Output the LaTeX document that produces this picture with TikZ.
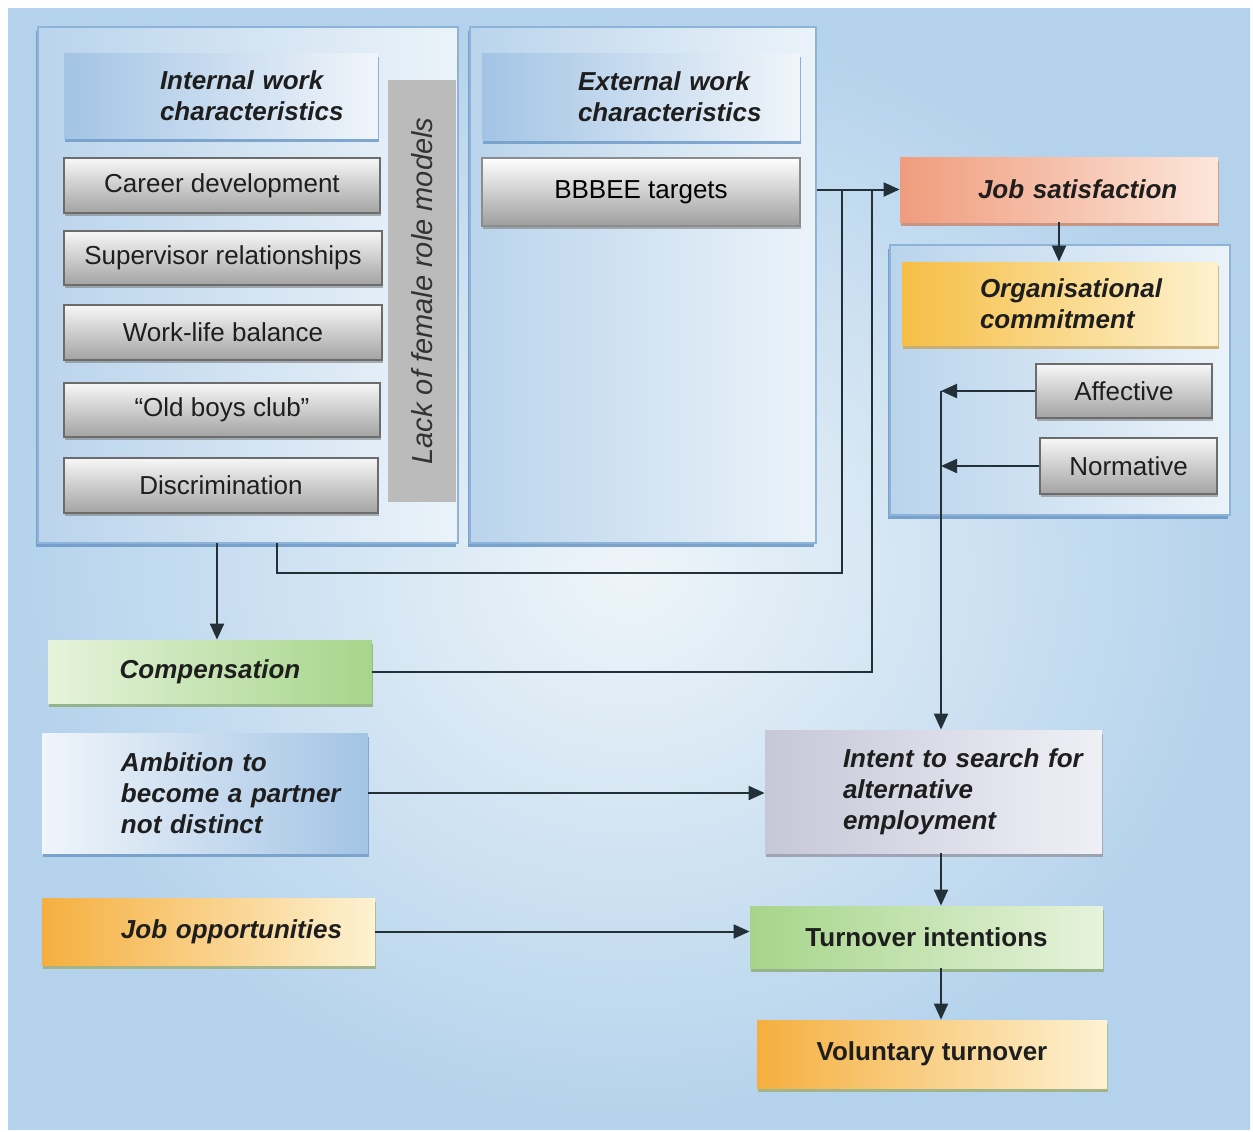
\documentclass[tikz,border=0pt]{standalone}
\usepackage{fontspec}
\setmainfont{Liberation Sans}
\usetikzlibrary{arrows.meta,shadows}
\definecolor{txt}{HTML}{1E1E1E}
\definecolor{linec}{HTML}{233038}
\definecolor{bgin}{HTML}{EEF5F9}
\definecolor{bgout}{HTML}{B4D2EC}
\definecolor{panA}{HTML}{BAD4EC}
\definecolor{panB}{HTML}{EBF3F9}
\definecolor{panD}{HTML}{8DB3D8}
\definecolor{shblue}{HTML}{6F9BC8}
\definecolor{grayT}{HTML}{F7F7F7}
\definecolor{grayB}{HTML}{A3A3A3}
\definecolor{grayD}{HTML}{6C6C6C}
\definecolor{hdA}{HTML}{A3C4E5}
\definecolor{hdB}{HTML}{F0F5FA}
\definecolor{salA}{HTML}{F09C7D}
\definecolor{salB}{HTML}{FCE6DA}
\definecolor{salS}{HTML}{C98A72}
\definecolor{yelA}{HTML}{F6BE45}
\definecolor{yelB}{HTML}{FDF2CE}
\definecolor{yelS}{HTML}{C9A860}
\definecolor{orA}{HTML}{F5AF3F}
\definecolor{orB}{HTML}{FDF2D2}
\definecolor{orS}{HTML}{9FB07A}
\definecolor{grA}{HTML}{A6D58A}
\definecolor{grB}{HTML}{E6F3DC}
\definecolor{grS}{HTML}{8EAE7B}
\definecolor{lvA}{HTML}{C6C7D8}
\definecolor{lvB}{HTML}{EFF0F6}
\definecolor{lvS}{HTML}{9A9AAA}
\definecolor{lack}{HTML}{BBBBBB}
\begin{document}
\begin{tikzpicture}[x=0.5pt,y=-0.5pt,
  panel/.style={draw=panD, line width=0.6pt, left color=panA, right color=panB,
    inner sep=0pt, drop shadow={shadow xshift=-1pt, shadow yshift=-2pt, fill=shblue, opacity=0.9}},
  graybox/.style={draw=grayD, line width=0.6pt, top color=grayT, bottom color=grayB,
    inner sep=0pt, text=txt, font=\fontsize{13}{15.5}\selectfont,
    drop shadow={shadow xshift=0.5pt, shadow yshift=-1.5pt, fill=black!50, opacity=0.6}},
  cbox/.style={inner sep=0pt, text=txt, font=\fontsize{13}{15.5}\selectfont\bfseries\itshape,
    drop shadow={shadow xshift=0.5pt, shadow yshift=-2pt, fill=#1, opacity=0.85}},
  lefttxt/.style={align=left, text width=#1},
  lackbar/.style={fill=lack, inner sep=0pt, text=black!80, font=\fontsize{14.5}{17}\selectfont\itshape},
  line/.style={draw=linec, line width=1pt},
  arr/.style={line, -{Triangle[length=8pt,width=7pt]}}
]
\useasboundingbox (0,0) rectangle (1253,1131);
\fill[white] (0,0) rectangle (1253,1131);
\shade[inner color=bgin, outer color=bgout] (8,8) rectangle (1250,1129);

% panels
\node[panel, minimum width=210pt, minimum height=258pt] (ip) at (248,285) {};
\node[panel, minimum width=173pt, minimum height=258pt] (ep) at (643,285) {};
\node[panel, minimum width=170pt, minimum height=135pt] (ocp) at (1060,380) {};

% internal work characteristics
\node[cbox=shblue, left color=hdA, right color=hdB, minimum width=157pt, minimum height=42.5pt, lefttxt=157pt]
  (iwc) at (221,95.5) {\hspace*{48pt}Internal work\\\hspace*{48pt}characteristics};
\node[graybox, minimum width=158pt, minimum height=27.5pt] (cd) at (222,185.5) {Career development};
\node[graybox, minimum width=159pt, minimum height=27pt] (sr) at (223,258) {Supervisor relationships};
\node[graybox, minimum width=159pt, minimum height=27.5pt] (wlb) at (223,332.5) {Work-life balance};
\node[graybox, minimum width=158pt, minimum height=27pt] (obc) at (222,410) {“Old boys club”};
\node[graybox, minimum width=157pt, minimum height=27.5pt] (dis) at (221,485.5) {Discrimination};
\node[lackbar, minimum width=211pt, minimum height=34pt, rotate=90] (lack) at (422,291) {Lack of female role models};

% external work characteristics
\node[cbox=shblue, left color=hdA, right color=hdB, minimum width=159pt, minimum height=43.5pt, lefttxt=159pt]
  (ewc) at (641,96.5) {\hspace*{48pt}External work\\\hspace*{48pt}characteristics};
\node[graybox, draw=black!45, top color=white, bottom color=black!38, minimum width=159pt, minimum height=34pt,
  text=black] (bb) at (641,192) {BBBEE targets};

% right column
\node[cbox=salS, left color=salA, right color=salB, minimum width=159pt, minimum height=32.5pt, lefttxt=159pt]
  (js) at (1059,189.5) {\hspace*{39pt}Job satisfaction};
\node[cbox=yelS, left color=yelA, right color=yelB, minimum width=158pt, minimum height=41.5pt, lefttxt=158pt]
  (oc) at (1060,303.5) {\hspace*{39pt}Organisational\\\hspace*{39pt}commitment};
\node[graybox, minimum width=88pt, minimum height=27pt] (aff) at (1124,391) {Affective};
\node[graybox, minimum width=88.5pt, minimum height=28pt] (norm) at (1128.5,466) {Normative};

% lower left
\node[cbox=grS, left color=grB, right color=grA, minimum width=162pt, minimum height=31.5pt]
  (comp) at (210,671.5) {Compensation};
\node[cbox=shblue, left color=hdB, right color=hdA, minimum width=163pt, minimum height=60pt, lefttxt=163pt]
  (amb) at (205,793) {\hspace*{39.5pt}Ambition to\\\hspace*{39.5pt}become a partner\\\hspace*{39.5pt}not distinct};
\node[cbox=orS, left color=orA, right color=orB, minimum width=166.5pt, minimum height=33.5pt, lefttxt=166.5pt]
  (jo) at (208.5,931.5) {\hspace*{39.5pt}Job opportunities};

% lower right
\node[cbox=lvS, left color=lvA, right color=lvB, minimum width=168.5pt, minimum height=61.5pt, lefttxt=168.5pt]
  (intent) at (933.5,791.5) {\hspace*{39pt}Intent to search for\\\hspace*{39pt}alternative\\\hspace*{39pt}employment};
\node[cbox=grS, left color=grA, right color=grB, minimum width=176.5pt, minimum height=31pt,
  font=\fontsize{13}{15.5}\selectfont\bfseries] (to) at (926.5,937) {Turnover intentions};
\node[cbox=orS, left color=orA, right color=orB, minimum width=175pt, minimum height=34pt,
  font=\fontsize{13}{15.5}\selectfont\bfseries] (vt) at (932,1054) {Voluntary turnover};

% junction coordinates
\coordinate (ipout) at (277,543);
\coordinate (ipdown) at (217,543);
\coordinate (j1) at (842,189.5);
\coordinate (j2) at (872,189.5);
\coordinate (va) at (941,391);

% connectors
\draw[line] (ipout) -- ++(0,30) -| (j1);
\draw[line] (comp.east) -| (j2);
\draw[arr] (ep.east |- js.west) -- (js.west);
\draw[arr] (ipdown) -- (ipdown |- comp.north);
\draw[arr] (js.south) -- (js.south |- oc.north);
\draw[arr] (aff.west) -- (va);
\draw[arr] (norm.west) -- (norm.west -| va);
\draw[arr] (va) -- (va |- intent.north);
\draw[arr] (amb.east) -- (amb.east -| intent.west);
\draw[arr] (intent.south -| va) -- (to.north -| va);
\draw[arr] (jo.east) -- (jo.east -| to.west);
\draw[arr] (to.south -| va) -- (vt.north -| va);
\end{tikzpicture}
\end{document}
